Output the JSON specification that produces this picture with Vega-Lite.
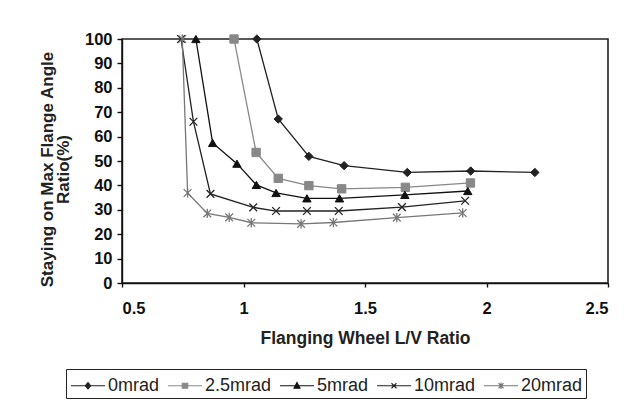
{
  "$schema": "https://vega.github.io/schema/vega-lite/v6.json",
  "width": 486,
  "height": 244,
  "autosize": "none",
  "padding": {"left": 122, "top": 39, "right": 32, "bottom": 126},
  "background": "white",
  "config": {
    "font": "Liberation Sans",
    "view": {"stroke": "#222", "strokeWidth": 1.6}
  },
  "data": {"values": [
    {"s": "0mrad", "x": 1.055, "y": 100},
    {"s": "0mrad", "x": 1.143, "y": 67.2},
    {"s": "0mrad", "x": 1.269, "y": 51.9},
    {"s": "0mrad", "x": 1.414, "y": 48.1},
    {"s": "0mrad", "x": 1.674, "y": 45.3},
    {"s": "0mrad", "x": 1.935, "y": 45.9},
    {"s": "0mrad", "x": 2.199, "y": 45.3},
    {"s": "2.5mrad", "x": 0.961, "y": 100},
    {"s": "2.5mrad", "x": 1.052, "y": 53.5},
    {"s": "2.5mrad", "x": 1.143, "y": 42.9},
    {"s": "2.5mrad", "x": 1.269, "y": 39.9},
    {"s": "2.5mrad", "x": 1.404, "y": 38.6},
    {"s": "2.5mrad", "x": 1.666, "y": 39.2},
    {"s": "2.5mrad", "x": 1.934, "y": 41.0},
    {"s": "5mrad", "x": 0.804, "y": 100},
    {"s": "5mrad", "x": 0.873, "y": 57.4},
    {"s": "5mrad", "x": 0.973, "y": 48.9},
    {"s": "5mrad", "x": 1.053, "y": 40.2},
    {"s": "5mrad", "x": 1.134, "y": 36.9},
    {"s": "5mrad", "x": 1.261, "y": 34.7},
    {"s": "5mrad", "x": 1.395, "y": 34.7},
    {"s": "5mrad", "x": 1.664, "y": 36.1},
    {"s": "5mrad", "x": 1.923, "y": 37.7},
    {"s": "10mrad", "x": 0.743, "y": 100},
    {"s": "10mrad", "x": 0.794, "y": 66.1},
    {"s": "10mrad", "x": 0.864, "y": 36.5},
    {"s": "10mrad", "x": 1.04, "y": 31.0},
    {"s": "10mrad", "x": 1.134, "y": 29.5},
    {"s": "10mrad", "x": 1.261, "y": 29.5},
    {"s": "10mrad", "x": 1.392, "y": 29.5},
    {"s": "10mrad", "x": 1.652, "y": 31.1},
    {"s": "10mrad", "x": 1.912, "y": 33.7},
    {"s": "20mrad", "x": 0.748, "y": 100},
    {"s": "20mrad", "x": 0.770, "y": 36.9},
    {"s": "20mrad", "x": 0.851, "y": 28.5},
    {"s": "20mrad", "x": 0.941, "y": 26.9},
    {"s": "20mrad", "x": 1.032, "y": 24.7},
    {"s": "20mrad", "x": 1.237, "y": 24.2},
    {"s": "20mrad", "x": 1.370, "y": 24.8},
    {"s": "20mrad", "x": 1.631, "y": 26.8},
    {"s": "20mrad", "x": 1.902, "y": 28.7}
  ]},
  "encoding": {
    "x": {"field": "x", "type": "quantitative", "scale": {"domain": [0.5, 2.5], "nice": false, "zero": false},
      "axis": {"values": [0.5, 1, 1.5, 2, 2.5], "format": "~g", "title": "Flanging Wheel L/V Ratio", "grid": false,
        "domainColor": "#111", "domainWidth": 1.4, "tickColor": "#111", "tickWidth": 1.4, "tickSize": 4,
        "labelFont": "Liberation Sans", "labelFontWeight": "bold", "labelFontSize": 16.5, "labelColor": "#111", "labelPadding": 13,
        "titleFont": "Liberation Sans", "titleFontWeight": "bold", "titleFontSize": 17.5, "titleColor": "#222", "titlePadding": 13}},
    "y": {"field": "y", "type": "quantitative", "scale": {"domain": [0, 100], "nice": false},
      "axis": {"values": [0, 10, 20, 30, 40, 50, 60, 70, 80, 90, 100], "title": ["Staying on Max Flange Angle", "Ratio(%)"], "grid": false,
        "domainColor": "#111", "domainWidth": 1.4, "tickColor": "#111", "tickWidth": 1.4, "tickSize": 5,
        "labelFont": "Liberation Sans", "labelFontWeight": "bold", "labelFontSize": 16.5, "labelColor": "#111", "labelPadding": 5,
        "titleFont": "Liberation Sans", "titleFontWeight": "bold", "titleFontSize": 17, "titleColor": "#222", "titlePadding": 12,
        "titleLineHeight": 16, "titleY": 130}}
  },
  "layer": [
    {
      "mark": {"type": "line", "strokeWidth": 1.3},
      "encoding": {
        "color": {"field": "s", "type": "nominal",
          "scale": {"domain": ["0mrad", "2.5mrad", "5mrad", "10mrad", "20mrad"], "range": ["#222222", "#888888", "#111111", "#222222", "#777777"]},
          "legend": {
            "orient": "none", "legendX": -56, "legendY": 330, "direction": "horizontal", "columns": 5,
            "title": null, "padding": 3, "strokeColor": "#222", "fillColor": "white",
            "labelFont": "Liberation Sans", "labelFontSize": 18, "labelColor": "#222", "labelOffset": 12, "columnPadding": 5,
            "symbolSize": 625, "symbolStrokeWidth": 1.1,
            "encode": {"symbols": {"update": {
              "x": {"value": 19},
              "shape": {"signal": "datum.value == '0mrad' ? 'M-1.36,0H1.36M0,-0.26L0.22,0L0,0.26L-0.22,0Z' : datum.value == '2.5mrad' ? 'M-1.36,0H1.36M-0.22,-0.2H0.22V0.2H-0.22Z' : datum.value == '5mrad' ? 'M-1.36,0H1.36M0,-0.26L0.24,0.2H-0.24Z' : datum.value == '10mrad' ? 'M-1.36,0H1.36M-0.2,-0.2L0.2,0.2M-0.2,0.2L0.2,-0.2' : 'M-1.36,0H1.36M-0.2,-0.2L0.2,0.2M-0.2,0.2L0.2,-0.2M0,-0.26V0.26'"},
              "fill": {"signal": "datum.value == '10mrad' || datum.value == '20mrad' ? 'transparent' : scale('color', datum.value)"},
              "stroke": {"signal": "scale('color', datum.value)"},
              "strokeWidth": {"value": 1.1}
            }}}
          }}
      }
    },
    {
      "transform": [{"filter": "datum.s == '0mrad'"}],
      "mark": {"type": "point", "shape": "diamond", "filled": true, "fill": "#222222", "stroke": "#222222", "strokeWidth": 1, "size": 70, "opacity": 1}
    },
    {
      "transform": [{"filter": "datum.s == '2.5mrad'"}],
      "mark": {"type": "point", "shape": "square", "filled": true, "fill": "#888888", "stroke": "#888888", "strokeWidth": 1, "size": 70, "opacity": 1}
    },
    {
      "transform": [{"filter": "datum.s == '5mrad'"}],
      "mark": {"type": "point", "shape": "triangle-up", "filled": true, "fill": "#111111", "stroke": "#111111", "strokeWidth": 1, "size": 70, "opacity": 1}
    },
    {
      "transform": [{"filter": "datum.s == '10mrad'"}],
      "mark": {"type": "point", "shape": "M-1,-1L1,1M-1,1L1,-1", "filled": false, "stroke": "#222222", "strokeWidth": 1.3, "size": 60, "opacity": 1}
    },
    {
      "transform": [{"filter": "datum.s == '20mrad'"}],
      "mark": {"type": "point", "shape": "M-1,-1L1,1M-1,1L1,-1M0,-1.2V1.2", "filled": false, "stroke": "#777777", "strokeWidth": 1.3, "size": 60, "opacity": 1}
    }
  ]
}
